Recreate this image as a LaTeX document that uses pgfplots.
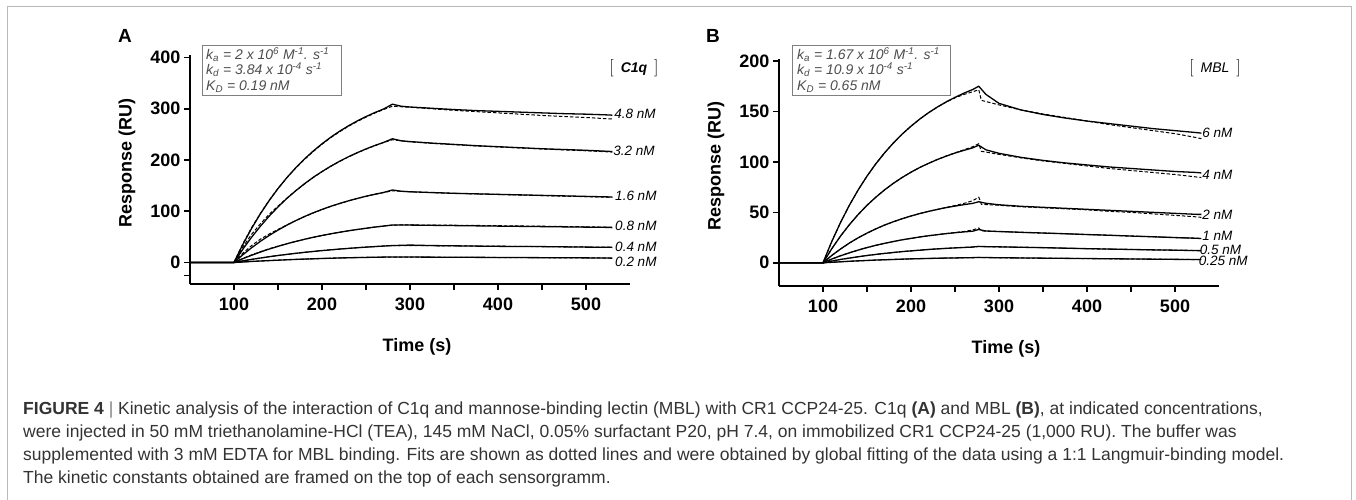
\documentclass[border=0pt]{standalone}
\usepackage{pgfplots}
\usepackage{pgfplotstable}
\pgfplotsset{compat=1.18}
\usepackage{fontspec}
\setmainfont{Liberation Sans}

\definecolor{capgray}{HTML}{333333}
\definecolor{boxgray}{HTML}{7F7F7F}
\definecolor{boxtext}{HTML}{4D4D4D}

% C1q sensorgrams (solid = measured)
\pgfplotstableread{
t    c48   c32   c16   c08  c04  c02
50   0     0     0     0    0    0
75   0     0     0     0    0    0
100  0     0     0     0    0    0
110  34.9  25.8  15.0  7.4  3.1  1.0
120  66.5  49.3  28.7  14.1 6.0  2.0
130  95.0  70.8  41.3  20.4 8.7  2.9
140  120.9 90.4  52.8  26.2 11.3 3.7
150  144.3 108.4 63.2  31.5 13.6 4.5
160  165.4 124.9 72.8  36.5 15.8 5.3
170  184.5 139.8 81.6  41.0 17.8 6.0
180  201.9 153.6 89.6  45.2 19.8 6.6
190  217.5 166.1 96.9  49.1 21.5 7.2
200  231.7 177.5 103.5 52.7 23.2 7.8
210  244.6 188.0 109.7 56.0 24.7 8.3
220  256.2 197.6 115.2 59.0 26.2 8.8
230  266.7 206.3 120.3 61.8 27.5 9.2
240  276.2 214.3 125.0 64.4 28.8 9.6
250  284.8 221.6 129.3 66.8 30.0 9.9
260  292.6 228.3 133.2 69.1 31.0 10.2
270  299.6 234.4 136.7 71.1 32.1 10.5
280  309.0 241.5 141.5 73.0 33.0 10.7
290  305.0 237.5 139.0 73.0 33.5 10.7
300  303.5 236.0 138.0 73.0 34.0 10.6
325  301.0 233.0 136.5 72.5 33.0 10.4
350  298.5 230.5 135.0 72.0 32.5 10.2
375  296.5 228.0 134.0 71.5 32.0 10.0
400  295.0 226.0 133.0 71.0 31.5 9.8
425  293.5 224.0 132.0 70.5 31.2 9.6
450  292.0 222.0 131.0 70.0 31.0 9.4
475  290.5 220.5 130.0 69.5 30.5 9.2
500  289.5 219.0 129.0 69.0 30.0 9.0
525  288.0 217.0 128.0 68.5 29.7 8.6
530  287.5 216.5 128.0 68.0 29.5 8.5
}\dataA

% C1q global fits (dashed)
\pgfplotstableread{
t    f48   f32   f16   f08  f04  f02
100  0     0     0     0    0    0
110  36.5  30.0  18.0  7.8  3.1  1.0
120  68.0  55.0  33.0  14.8 6.0  2.0
130  96.0  75.5  45.5  21.0 8.7  2.9
140  121.5 94.0  55.5  26.8 11.3 3.7
150  144.5 110.0 64.5  31.8 13.6 4.5
160  165.4 125.5 73.3  36.5 15.8 5.3
170  184.0 139.8 81.6  41.0 17.8 6.0
180  201.0 153.0 89.4  45.2 19.8 6.6
190  216.5 165.8 96.7  49.1 21.5 7.2
200  230.7 177.2 103.3 52.7 23.2 7.8
210  243.6 187.7 109.5 56.0 24.7 8.3
220  255.2 197.3 115.0 59.0 26.2 8.8
230  265.7 206.0 120.1 61.8 27.5 9.2
240  275.2 214.0 124.8 64.4 28.8 9.6
250  283.8 221.3 129.1 66.8 30.0 9.9
260  291.6 228.0 133.0 69.1 31.0 10.2
270  298.6 234.1 136.5 71.1 32.1 10.5
280  305.0 239.5 139.8 73.0 33.0 10.7
290  304.0 237.5 139.0 73.2 33.0 10.6
300  303.0 235.5 138.0 73.3 32.9 10.5
325  300.0 232.5 136.3 73.0 32.7 10.3
350  297.0 230.0 135.0 72.7 32.4 10.1
375  294.5 227.5 133.8 72.3 32.1 9.9
400  292.0 225.5 132.7 71.8 31.8 9.7
425  289.5 223.5 131.6 71.3 31.4 9.5
450  287.0 221.5 130.5 70.8 31.0 9.3
475  285.0 219.8 129.5 70.2 30.6 9.1
500  283.0 218.0 128.5 69.6 30.2 8.9
525  280.5 216.0 127.5 69.0 29.8 8.7
530  280.0 215.5 127.3 68.8 29.7 8.6
}\fitA

% MBL sensorgrams (solid = measured)
\pgfplotstableread{
t    c6    c4    c2   c1   c05  c025
50   0     0     0    0    0    0
75   0     0     0    0    0    0
100  0     0     0    0    0    0
110  21.2  14.0  7.3  3.7  1.7  0.5
120  40.1  26.6  13.7 7.0  3.3  1.0
130  57.1  37.8  19.6 9.9  4.7  1.5
140  72.3  47.9  24.8 12.6 6.0  1.9
150  85.9  57.0  29.4 15.1 7.2  2.3
160  98.1  65.0  33.6 17.3 8.3  2.7
170  109.0 72.3  37.4 19.3 9.3  3.0
180  118.8 78.8  40.7 21.1 10.2 3.3
190  127.6 84.6  43.7 22.8 11.1 3.6
200  135.4 89.8  46.4 24.2 11.8 3.9
210  142.5 94.5  48.8 25.6 12.5 4.1
220  148.8 98.6  51.0 26.8 13.2 4.3
230  154.4 102.4 52.9 27.9 13.8 4.5
240  159.5 105.7 54.7 28.9 14.3 4.7
250  164.0 108.8 56.2 29.8 14.8 4.8
260  168.1 111.4 57.6 30.6 15.2 5.0
270  171.7 113.9 58.9 31.3 15.6 5.1
277  175.0 116.5 60.5 33.0 16.2 5.3
285  167.0 112.0 59.0 31.5 16.0 5.2
300  158.0 108.5 57.5 31.0 15.8 5.0
325  151.5 104.5 56.0 30.2 15.4 4.8
350  147.0 101.5 55.0 29.5 15.0 4.6
375  143.5 99.0  54.0 28.8 14.5 4.4
400  140.5 97.0  53.0 28.0 14.0 4.2
425  138.0 95.0  52.0 27.3 13.6 4.0
450  135.5 93.5  51.0 26.5 13.2 3.8
475  133.0 92.0  50.0 25.8 12.8 3.6
500  131.0 90.5  49.0 25.0 12.5 3.4
525  129.0 89.5  48.0 24.3 12.1 3.2
530  128.5 89.0  48.0 24.0 12.0 3.2
}\dataB

% MBL global fits (dashed)
\pgfplotstableread{
t    f6    f4    f2   f1   f05  f025
100  0     0     0    0    0    0
110  21.2  14.0  7.3  3.7  1.7  0.5
120  40.1  26.6  13.7 7.0  3.3  1.0
130  57.1  37.8  19.6 9.9  4.7  1.5
140  72.3  47.9  24.8 12.6 6.0  1.9
150  85.9  57.0  29.4 15.1 7.2  2.3
160  98.1  65.0  33.6 17.3 8.3  2.7
170  109.0 72.3  37.4 19.3 9.3  3.0
180  118.8 78.8  40.7 21.1 10.2 3.3
190  127.6 84.6  43.7 22.8 11.1 3.6
200  135.4 89.8  46.4 24.2 11.8 3.9
210  142.5 94.5  48.8 25.6 12.5 4.1
220  148.8 98.6  51.0 26.8 13.2 4.3
230  154.4 102.4 52.9 27.9 13.8 4.5
240  159.3 105.9 54.9 29.0 14.3 4.7
250  163.5 109.0 56.8 30.0 14.8 4.8
260  166.8 112.0 58.8 31.0 15.2 5.0
270  169.5 115.0 61.5 32.5 15.6 5.1
277  171.5 118.0 65.0 34.5 16.3 5.3
280  161.0 110.5 58.0 31.6 16.0 5.2
300  156.5 107.5 57.0 31.0 15.8 5.0
325  151.5 104.0 55.5 30.2 15.4 4.8
350  147.5 101.0 54.5 29.5 15.0 4.6
375  144.0 98.5  53.5 28.8 14.5 4.4
400  140.5 96.0  52.5 28.0 14.0 4.2
425  137.0 93.5  51.0 27.3 13.6 4.0
450  134.0 91.5  50.0 26.5 13.2 3.8
475  131.0 89.5  48.5 25.8 12.8 3.6
500  128.0 87.5  47.0 25.0 12.5 3.4
525  124.0 85.0  45.5 24.3 12.1 3.2
530  123.0 84.5  45.0 24.0 12.0 3.2
}\fitB

\pgfplotsset{
  sensor/.style={
    scale only axis, clip=false,
    xmin=50, xmax=550, width=440pt,
    axis x line=bottom, axis y line=left,
    axis line style={line width=2pt, -},
    tick style={black, line width=1.5pt},
    tick align=outside,
    major tick length=6pt, minor tick length=6pt,
    xtick={100,200,300,400,500},
    minor xtick={150,250,350,450},
    /pgf/number format/assume math mode=true,
    ticklabel style={font=\fontsize{18}{20}\selectfont\bfseries},
    xticklabel style={yshift=-4pt},
    xlabel={Time (s)},
    ylabel={Response (RU)},
    every axis x label/.style={at={(axis description cs:0.516,-0.275)}, anchor=center,
      font=\fontsize{18}{20}\selectfont\bfseries},
    every axis y label/.style={at={(axis description cs:-0.143,0.53)}, rotate=90, anchor=center,
      font=\fontsize{18}{20}\selectfont\bfseries},
  },
  meas/.style={black, line width=1.3pt, no markers},
  fit/.style={black, line width=1pt, dash pattern=on 3.5pt off 2pt, no markers},
}
\tikzset{clab/.style={anchor=west, inner sep=0pt, font=\fontsize{13.5}{15}\selectfont\itshape}}

\begin{document}
\begin{tikzpicture}[x=1pt, y=1pt]
\path[use as bounding box] (0,0) rectangle (1356,500);

% ---------- panel A ----------
\begin{axis}[sensor, at={(190pt,216pt)}, anchor=south west,
  height=229pt, ymin=-42, ymax=405,
  ytick={0,100,200,300,400}, minor ytick={-25}]
\addplot[meas] table[x=t, y=c48] {\dataA};
\addplot[meas] table[x=t, y=c32] {\dataA};
\addplot[meas] table[x=t, y=c16] {\dataA};
\addplot[meas] table[x=t, y=c08] {\dataA};
\addplot[meas] table[x=t, y=c04] {\dataA};
\addplot[meas] table[x=t, y=c02] {\dataA};
\addplot[fit] table[x=t, y=f48] {\fitA};
\addplot[fit] table[x=t, y=f32] {\fitA};
\addplot[fit] table[x=t, y=f16] {\fitA};
\addplot[fit] table[x=t, y=f08] {\fitA};
\addplot[fit] table[x=t, y=f04] {\fitA};
\addplot[fit] table[x=t, y=f02] {\fitA};
\node[clab] at (axis cs:532,290) {4.8 nM};
\node[clab] at (axis cs:531,217) {3.2 nM};
\node[clab] at (axis cs:533,131) {1.6 nM};
\node[clab] at (axis cs:533,71) {0.8 nM};
\node[clab] at (axis cs:533,31) {0.4 nM};
\node[clab] at (axis cs:533,2) {0.2 nM};
\end{axis}

% ---------- panel B ----------
\begin{axis}[sensor, at={(779pt,214pt)}, anchor=south west,
  height=227pt, ymin=-23, ymax=202,
  ytick={0,50,100,150,200}]
\addplot[meas] table[x=t, y=c6] {\dataB};
\addplot[meas] table[x=t, y=c4] {\dataB};
\addplot[meas] table[x=t, y=c2] {\dataB};
\addplot[meas] table[x=t, y=c1] {\dataB};
\addplot[meas] table[x=t, y=c05] {\dataB};
\addplot[meas] table[x=t, y=c025] {\dataB};
\addplot[fit] table[x=t, y=f6] {\fitB};
\addplot[fit] table[x=t, y=f4] {\fitB};
\addplot[fit] table[x=t, y=f2] {\fitB};
\addplot[fit] table[x=t, y=f1] {\fitB};
\addplot[fit] table[x=t, y=f05] {\fitB};
\addplot[fit] table[x=t, y=f025] {\fitB};
\node[clab] at (axis cs:531,129) {6 nM};
\node[clab] at (axis cs:531,87) {4 nM};
\node[clab] at (axis cs:531,48) {2 nM};
\node[clab] at (axis cs:531,27) {1 nM};
\node[clab] at (axis cs:528,13) {0.5 nM};
\node[clab] at (axis cs:527,2) {0.25 nM};
\end{axis}

% panel letters
\node[font=\fontsize{19}{21}\selectfont\bfseries] at (125,464) {A};
\node[font=\fontsize{19}{21}\selectfont\bfseries] at (713,464) {B};

% kinetic constants boxes
\draw[boxgray, line width=0.9pt] (202,405) rectangle (341,455);
\node[anchor=north west, inner sep=0pt, align=left, text=boxtext,
  font=\fontsize{14}{15.5}\selectfont\itshape] at (206,453)
  {k\textsubscript{a} = 2 x 10\textsuperscript{6} M\textsuperscript{-1}. s\textsuperscript{-1}\\
   k\textsubscript{d} = 3.84 x 10\textsuperscript{-4} s\textsuperscript{-1}\\
   K\textsubscript{D} = 0.19 nM};
\draw[boxgray, line width=0.9pt] (792,405) rectangle (950,455);
\node[anchor=north west, inner sep=0pt, align=left, text=boxtext,
  font=\fontsize{14}{15.5}\selectfont\itshape] at (797,453)
  {k\textsubscript{a} = 1.67 x 10\textsuperscript{6} M\textsuperscript{-1}. s\textsuperscript{-1}\\
   k\textsubscript{d} = 10.9 x 10\textsuperscript{-4} s\textsuperscript{-1}\\
   K\textsubscript{D} = 0.65 nM};

% ligand labels
\node[font=\fontsize{14}{16}\selectfont] at (634,432)
  {{\fontsize{19}{22}\selectfont$\bigl[$}\enspace\textbf{\textit{C1q}}\enspace{\fontsize{19}{22}\selectfont$\bigr]$}};
\node[font=\fontsize{14}{16}\selectfont] at (1215,432)
  {{\fontsize{19}{22}\selectfont$\bigl[$}\enspace\textit{MBL}\enspace{\fontsize{19}{22}\selectfont$\bigr]$}};

% frame
\draw[gray!55, line width=1pt] (7,0) -- (7,493) -- (1351.5,493) -- (1351.5,0);

% caption
\begin{scope}[every node/.style={anchor=west, inner sep=0pt, text=capgray,
    font=\fontsize{17.5}{20}\selectfont}]
\node at (23,90) {\textbf{FIGURE 4} {\color{gray}|} Kinetic analysis of the interaction of C1q and mannose-binding lectin (MBL) with CR1 CCP24-25. C1q \textbf{(A)} and MBL \textbf{(B)}, at indicated concentrations,};
\node at (23,67) {were injected in 50 mM triethanolamine-HCl (TEA), 145 mM NaCl, 0.05\% surfactant P20, pH 7.4, on immobilized CR1 CCP24-25 (1,000 RU). The buffer was};
\node at (23,44) {supplemented with 3 mM EDTA for MBL binding. Fits are shown as dotted lines and were obtained by global fitting of the data using a 1:1 Langmuir-binding model.};
\node at (23,21) {The kinetic constants obtained are framed on the top of each sensorgramm.};
\end{scope}
\end{tikzpicture}
\end{document}
